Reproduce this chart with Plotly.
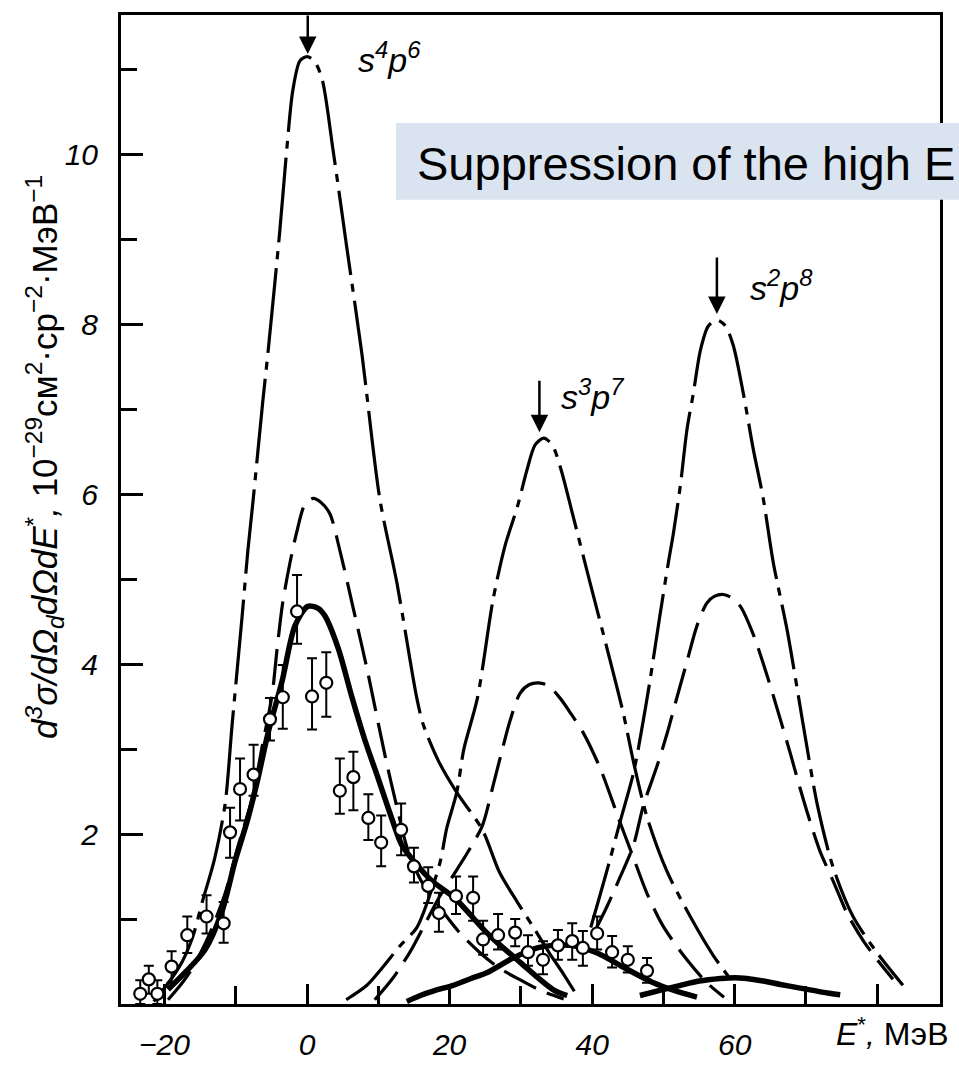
import plotly.graph_objects as go

# ---------------- data ----------------
# dash-dot curve, s4p6
a1_x = [-21.5, -19, -17.5, -16, -14.7, -13, -11.5, -10.5, -9.1, -8.3, -7.6, -6.2, -5.5, -3.8, -2.8, -2, -1, 0, 1, 2.1,
        3.65, 5.6, 7.7, 10.2, 12.6, 15.4, 16.3, 18.5, 21, 24.6, 27, 29.5, 31.7, 34, 36, 37.5]
a1_y = [0.03, 0.3, 0.5, 0.8, 1.2, 1.7, 2.35, 3.3, 4.57, 5.34, 5.9, 7.1, 7.65, 9.12, 10.1, 10.75, 11.1, 11.15, 11.1, 10.89,
        10.05, 8.89, 7.65, 5.95, 4.96, 3.6, 3.29, 2.85, 2.49, 2.05, 1.55, 1.2, 0.91, 0.6, 0.35, 0.15]
# dashed curve, s4p6
b1_x = [-19.5, -17.5, -16.1, -13.9, -11.5, -9.7, -7.7, -6.3, -4.9, -4.2, -3.4, -2.4, -1.4, -0.3, 0.85, 2, 3.2, 4.6, 6.5,
        8.4, 11, 12.8, 14, 16, 18.5, 21.5, 24.3, 27, 30, 33, 36]
b1_y = [0.05, 0.25, 0.42, 0.78, 1.3, 1.85, 2.42, 3.03, 3.64, 4.18, 4.73, 5.19, 5.57, 5.88, 5.95, 5.9, 5.77, 5.34, 4.65,
        3.95, 2.9, 2.25, 1.85, 1.45, 1.15, 0.83, 0.6, 0.42, 0.28, 0.15, 0.06]
# solid curve, s4p6
c1_x = [-19.5, -17, -14.3, -11.9, -10.1, -8.3, -6.9, -5.5, -3.5, -1.7, 0.1, 1.5, 2.5, 4.4, 6.3, 8.1, 10, 11.9, 13.3,
        15.2, 17.5, 20.8, 25.3, 29.9, 34.5, 36.5]
c1_y = [0.17, 0.38, 0.64, 1.10, 1.68, 2.18, 2.65, 3.18, 3.80, 4.45, 4.68, 4.66, 4.57, 4.18, 3.61, 3.11, 2.65, 2.18, 1.87,
        1.66, 1.45, 1.24, 0.83, 0.49, 0.17, 0.10]
# dash-dot curve, s3p7
a2_x = [5.5, 8.4, 10.5, 13, 15.4, 17.3, 18.7, 19.6, 21, 22, 23.9, 26.1, 27.8, 29.5, 30.9, 32, 33.2, 34.4, 35.6, 37.3,
        39.7, 42.1, 44.4, 45.8, 47.7, 50.5, 53.3, 57, 59.8]
a2_y = [0.05, 0.22, 0.42, 0.68, 0.9, 1.3, 1.68, 2.07, 2.49, 3.0, 3.6, 4.76, 5.4, 5.85, 6.3, 6.58, 6.66, 6.58, 6.3, 5.75,
        4.96, 4.18, 3.41, 2.85, 2.2, 1.56, 1.1, 0.57, 0.25]
# dashed curve, s3p7
b2_x = [9.5, 12, 14.5, 16.6, 18.5, 20.4, 22.5, 24.6, 26.1, 27.5, 28.5, 29.9, 31.2, 32.5, 33.8, 35.5, 37, 38.7, 41.1,
        43.9, 45.8, 47.7, 50, 53.3, 56.1, 58.5]
b2_y = [0.05, 0.3, 0.62, 0.95, 1.25, 1.5, 1.78, 2.1, 2.57, 3.03, 3.34, 3.66, 3.76, 3.78, 3.75, 3.6, 3.42, 3.2, 2.78,
        2.14, 1.72, 1.3, 0.91, 0.52, 0.25, 0.08]
# solid curve, s3p7
c2_x = [14, 15.9, 18, 20.5, 23, 25.3, 28.9, 32.3, 34.5, 36.9, 40.7, 44, 48.6, 51.5, 54.7]
c2_y = [0.03, 0.10, 0.16, 0.22, 0.3, 0.37, 0.54, 0.66, 0.69, 0.69, 0.6, 0.45, 0.25, 0.16, 0.08]
# dash-dot curve, s2p8
a3_x = [39.8, 41, 42.5, 43.9, 45.8, 47.2, 48.1, 49.5, 50.7, 51.4, 52.4, 53.3, 54.2, 55.2, 56.3, 57.5, 58.7, 59.8, 61.2,
        62.6, 64, 65.4, 67.4, 69.6, 71.6, 73.8, 76.6, 80, 83.6]
a3_y = [0.9, 1.25, 1.7, 2.14, 2.72, 3.35, 3.8, 4.57, 5.2, 5.54, 6.12, 6.76, 7.19, 7.7, 7.98, 8.05, 7.98, 7.75, 7.19,
        6.53, 5.95, 5.2, 4.38, 3.29, 2.34, 1.61, 1.03, 0.6, 0.22]
# dashed curve, s2p8
b3_x = [40.5, 42.1, 43.9, 45.8, 47.2, 49.1, 50.5, 51.9, 53.3, 54.7, 56.1, 57.2, 58.4, 59.6, 60.8, 62.6, 64.6, 66.4, 67.8,
        69.2, 70.6, 72, 73.8, 75.8, 78, 80, 82.2]
b3_y = [0.88, 1.15, 1.49, 1.87, 2.34, 2.8, 3.18, 3.61, 4.03, 4.45, 4.72, 4.8, 4.82, 4.78, 4.68, 4.35, 3.85, 3.35, 2.95,
        2.53, 2.14, 1.79, 1.45, 1.06, 0.75, 0.52, 0.29]
# solid curve, s2p8
c3_x = [46.7, 49.5, 52.4, 55, 58, 60, 61.7, 64, 66.4, 69, 71, 73, 74.8]
c3_y = [0.1, 0.16, 0.22, 0.27, 0.3, 0.31, 0.3, 0.27, 0.23, 0.19, 0.16, 0.13, 0.11]

# experimental points
exp_x = [-23.4, -22.2, -21.0, -19.0, -16.8, -14.1, -11.7, -10.8, -9.4, -7.5, -5.2, -3.4, -1.4, 0.7, 2.7, 4.6, 6.5, 8.6,
         10.4, 13.2, 15.0, 17.0, 18.5, 20.9, 23.3, 24.7, 26.8, 29.2, 31.0, 33.1, 35.2, 37.2, 38.7, 40.7, 42.8, 45.0, 47.7]
exp_y = [0.12, 0.29, 0.12, 0.44, 0.81, 1.03, 0.95, 2.02, 2.53, 2.70, 3.35, 3.61, 4.62, 3.62, 3.78, 2.51, 2.67, 2.19,
         1.90, 2.05, 1.62, 1.39, 1.07, 1.27, 1.25, 0.76, 0.81, 0.84, 0.61, 0.52, 0.69, 0.74, 0.66, 0.83, 0.61, 0.52, 0.39]
err_up = [0.16, 0.16, 0.16, 0.18, 0.22, 0.25, 0.25, 0.29, 0.36, 0.35, 0.25, 0.38, 0.43, 0.45, 0.36, 0.38, 0.30, 0.28,
          0.32, 0.31, 0.22, 0.22, 0.24, 0.23, 0.25, 0.22, 0.25, 0.16, 0.20, 0.22, 0.18, 0.21, 0.20, 0.20, 0.19, 0.16, 0.15]
err_dn = [0.12, 0.17, 0.12, 0.19, 0.21, 0.20, 0.23, 0.30, 0.37, 0.25, 0.25, 0.37, 0.38, 0.39, 0.40, 0.27, 0.39, 0.26,
          0.28, 0.30, 0.19, 0.20, 0.22, 0.21, 0.27, 0.18, 0.17, 0.16, 0.16, 0.17, 0.17, 0.22, 0.21, 0.19, 0.18, 0.15, 0.14]

x_tickvals = [-20, 0, 20, 40, 60, 80]
x_ticktext = ["−20", "0", "20", "40", "60", ""]
x_minor = [-10, 10, 30, 50, 70]
y_tickvals = [2, 4, 6, 8, 10]
y_minor = [1, 3, 5, 7, 9, 11]

# ---------------- figure ----------------
W, H = 959, 1073
L, R, T, B = 121, 19, 15, 51
XR = [-26.1, 88.8]
YR = [0, 11.64]

DASHDOT_LONG = "85px,9px,8px,9px"
DASHDOT = "66px,9px,8px,9px"
DASHED = "36px,12px"

fig = go.Figure()


def add_curve(x, y, dash, width):
    fig.add_trace(go.Scatter(x=x, y=y, mode="lines",
                             line=dict(color="black", width=width, dash=dash, shape="spline", smoothing=0.8),
                             showlegend=False, hoverinfo="skip"))


add_curve(a1_x, a1_y, DASHDOT_LONG, 3.2)
add_curve(b1_x, b1_y, DASHED, 3.2)
add_curve(a2_x, a2_y, DASHDOT, 3.2)
add_curve(b2_x, b2_y, DASHED, 3.2)
add_curve(a3_x, a3_y, DASHDOT, 3.2)
add_curve(b3_x, b3_y, DASHED, 3.2)
add_curve(c1_x, c1_y, "solid", 5.5)
add_curve(c2_x, c2_y, "solid", 5.5)
add_curve(c3_x, c3_y, "solid", 5.5)

fig.add_trace(go.Scatter(
    x=exp_x, y=exp_y, mode="markers",
    marker=dict(symbol="circle", size=12, color="white", line=dict(color="black", width=2.2)),
    error_y=dict(type="data", array=err_up, arrayminus=err_dn, color="black", thickness=2, width=5),
    showlegend=False, hoverinfo="skip"))

tickfont = dict(family="Liberation Sans, Arial", size=30, color="black", style="italic")

fig.update_layout(
    width=W, height=H,
    margin=dict(l=L, r=R, t=T, b=B, pad=0),
    paper_bgcolor="white", plot_bgcolor="white",
    showlegend=False,
    xaxis=dict(range=XR, showgrid=False, zeroline=False, showline=True, linecolor="black", linewidth=3,
               mirror=True, ticks="inside", ticklen=20, tickwidth=2.5, tickcolor="black",
               tickvals=x_tickvals, ticktext=x_ticktext, tickfont=tickfont, ticklabelstandoff=12,
               minor=dict(tickvals=x_minor, ticks="inside", ticklen=18, tickwidth=2.5, tickcolor="black")),
    yaxis=dict(range=YR, showgrid=False, zeroline=False, showline=True, linecolor="black", linewidth=3,
               mirror=True, ticks="inside", ticklen=22, tickwidth=2.5, tickcolor="black",
               tickvals=y_tickvals, tickfont=tickfont, ticklabelstandoff=14,
               minor=dict(tickvals=y_minor, ticks="inside", ticklen=16, tickwidth=2.5, tickcolor="black")),
)


def px2paper(px, py):
    return (px - L) / (W - L - R), (H - B - py) / (H - T - B)


# arrows to peaks
for xa, ya, ay in [(0.1, 11.18, -40), (32.6, 6.73, -53), (57.5, 8.12, -58)]:
    fig.add_annotation(x=xa, y=ya, xref="x", yref="y", text="", showarrow=True, ax=0, ay=ay,
                       arrowhead=2, arrowsize=1.4, arrowwidth=2.5, arrowcolor="black")

lab_font = dict(family="Liberation Sans, Arial", size=34, color="black", style="italic")
for xt, yt, txt in [(11.5, 11.14, "s<sup>4</sup>p<sup>6</sup>"),
                    (40.0, 7.17, "s<sup>3</sup>p<sup>7</sup>"),
                    (66.5, 8.46, "s<sup>2</sup>p<sup>8</sup>")]:
    fig.add_annotation(x=xt, y=yt, xref="x", yref="y", text=txt, showarrow=False, font=lab_font,
                       xanchor="center", yanchor="middle")

# y axis title
tx, ty = px2paper(45, 465)
fig.add_annotation(
    x=tx, y=ty, xref="paper", yref="paper", textangle=-90, showarrow=False,
    xanchor="center", yanchor="middle",
    text="<i>d<sup>3</sup>σ/dΩ<sub>d</sub>dΩdE</i><sup>*</sup><i>,</i> 10<sup>−29</sup>см<sup>2</sup>·ср<sup>−2</sup>·МэВ<sup>−1</sup>",
    font=dict(family="Liberation Sans, Arial", size=35, color="black"))

# x axis title
ex, ey = px2paper(892, 1051)
fig.add_annotation(x=ex, y=ey, xref="paper", yref="paper", showarrow=False,
                   xanchor="center", yanchor="middle",
                   text="<i>E</i><sup>*</sup><i>,</i> МэВ",
                   font=dict(family="Liberation Sans, Arial", size=32, color="black"))

# overlay caption box
bx0, by0 = px2paper(396, 203)
bx1, by1 = px2paper(1010, 125)
fig.add_shape(type="rect", xref="paper", yref="paper", x0=bx0, y0=by0, x1=bx1, y1=by1,
              fillcolor="#DAE3F0", line=dict(width=0), layer="above")
cx, cy = px2paper(415, 166)
fig.add_annotation(x=cx, y=cy, xref="paper", yref="paper", xanchor="left", yanchor="middle",
                   showarrow=False, text="Suppression of the high E",
                   font=dict(family="Liberation Sans, Arial", size=47, color="black"))

fig.write_html("out.html")
